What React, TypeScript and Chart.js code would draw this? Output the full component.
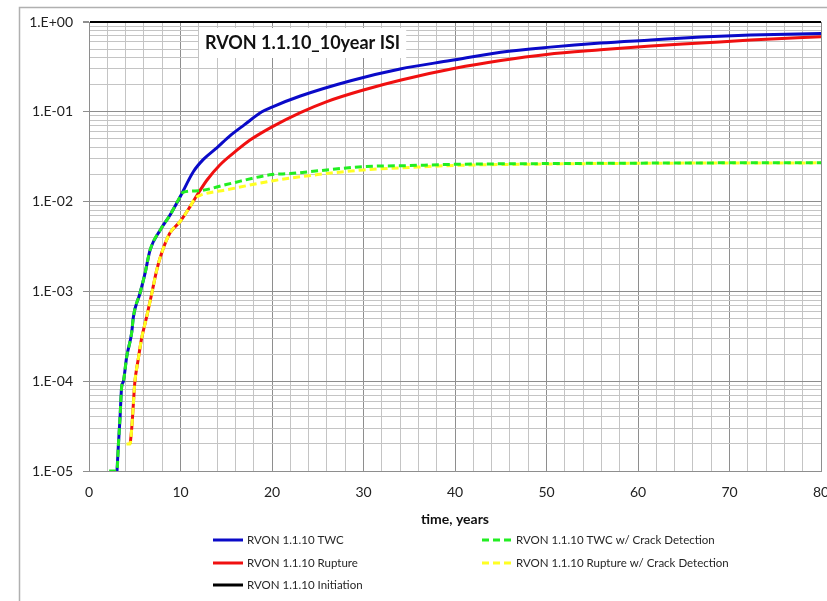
import { useEffect, useRef } from 'react';
import { Chart, registerables } from 'chart.js';

Chart.register(...registerables);

// ---------------- data ----------------
const chartTitle = 'RVON 1.1.10_10year ISI';
const xAxisTitle = 'time, years';

const twcYears = [3.06, 3.2, 3.39, 3.57, 3.75, 4.12, 4.67, 4.85, 5.58, 6.13, 6.68, 7.77, 8.86, 9.96, 11.4, 12.5, 14.0, 15.4, 17.0, 18.9, 20.0, 23.1, 28.6, 34.0, 39.5, 45.0, 50.4, 55.9, 61.4, 66.9, 72.3, 80.0];
const twcValues = [1e-5, 1.86e-5, 3.9e-5, 8.7e-5, 9.9e-5, 1.87e-4, 3.5e-4, 5.2e-4, 9.6e-4, 1.6e-3, 2.9e-3, 4.8e-3, 7.1e-3, 1.13e-2, 2.15e-2, 2.95e-2, 4.0e-2, 5.4e-2, 7.2e-2, 0.1, 0.113, 0.15, 0.222, 0.3, 0.372, 0.46, 0.525, 0.583, 0.63, 0.68, 0.716, 0.745];

const ruptureYears = [4.5, 4.66, 4.83, 5.0, 5.37, 5.75, 6.3, 6.86, 7.4, 7.95, 8.86, 9.96, 11.05, 11.6, 12.9, 14.3, 16.2, 17.6, 20.0, 23.1, 26.0, 30.0, 34.0, 40.0, 45.0, 50.0, 55.9, 61.4, 66.9, 72.3, 80.0];
const ruptureValues = [2e-5, 2.9e-5, 5.2e-5, 9.5e-5, 1.73e-4, 3.0e-4, 5.2e-4, 9.5e-4, 1.73e-3, 2.7e-3, 4.5e-3, 6.0e-3, 8.8e-3, 1.09e-2, 1.74e-2, 2.56e-2, 3.76e-2, 4.85e-2, 6.8e-2, 0.098, 0.13, 0.175, 0.225, 0.305, 0.372, 0.435, 0.49, 0.54, 0.583, 0.63, 0.685];

const twcCdYears = [2.2, 3.06, 3.2, 3.39, 3.57, 3.75, 4.12, 4.67, 4.85, 5.58, 6.13, 6.68, 7.77, 8.86, 9.96, 10.3, 12.0, 15.0, 20.0, 22.0, 25.0, 30.0, 35.0, 40.0, 50.0, 60.0, 70.0, 80.0];
const twcCdValues = [1e-5, 1e-5, 1.86e-5, 3.9e-5, 8.7e-5, 9.9e-5, 1.87e-4, 3.5e-4, 5.2e-4, 9.6e-4, 1.6e-3, 2.9e-3, 4.8e-3, 7.1e-3, 1.13e-2, 1.27e-2, 1.32e-2, 1.55e-2, 2.0e-2, 2.05e-2, 2.2e-2, 2.45e-2, 2.52e-2, 2.6e-2, 2.65e-2, 2.68e-2, 2.7e-2, 2.7e-2];

const ruptureCdYears = [4.1, 4.5, 4.66, 4.83, 5.0, 5.37, 5.75, 6.3, 6.86, 7.4, 7.95, 8.86, 9.96, 11.05, 11.6, 12.2, 15.0, 20.0, 25.0, 30.0, 35.0, 40.0, 50.0, 60.0, 70.0, 80.0];
const ruptureCdValues = [2e-5, 2e-5, 2.9e-5, 5.2e-5, 9.5e-5, 1.73e-4, 3.0e-4, 5.2e-4, 9.5e-4, 1.73e-3, 2.7e-3, 4.5e-3, 6.0e-3, 8.8e-3, 1.09e-2, 1.18e-2, 1.35e-2, 1.7e-2, 2.0e-2, 2.25e-2, 2.4e-2, 2.53e-2, 2.62e-2, 2.67e-2, 2.69e-2, 2.7e-2];

const initiationYears: number[] = [];
const initiationValues: number[] = [];

const yMajorTicks = [1e-5, 1e-4, 1e-3, 1e-2, 1e-1, 1];
const yTickLabels = ['1.E-05', '1.E-04', '1.E-03', '1.E-02', '1.E-01', '1.E+00'];
const xMin = 0;
const xMax = 80;
const xLabelStep = 10;
const xGridStep = 2;

const seriesNames = [
  'RVON 1.1.10 TWC',
  'RVON 1.1.10 Rupture',
  'RVON 1.1.10 Initiation',
  'RVON 1.1.10 TWC w/ Crack Detection',
  'RVON 1.1.10 Rupture w/ Crack Detection',
];

// ---------------- styles ----------------
const FONT = 'Lato, "Open Sans", "Noto Sans", sans-serif';
const BLUE = '#0a0ac8';
const RED = '#f01010';
const BLACK = '#000000';
const GREEN = '#22ee22';
const YELLOW = '#ffff22';
const GRID_MAJOR = '#8e8e8e';
const GRID_MINOR = '#c4c4c4';

const pts = (xs: number[], ys: number[]) => xs.map((x, i) => ({ x, y: ys[i] }));

const isMajorY = (v: number) => yMajorTicks.some((m) => Math.abs(m - v) < m * 1e-6);

const legendLayout = [
  { name: seriesNames[0], color: BLUE, dash: [] as number[], x: 213, y: 540 },
  { name: seriesNames[1], color: RED, dash: [] as number[], x: 213, y: 563 },
  { name: seriesNames[2], color: BLACK, dash: [] as number[], x: 213, y: 585 },
  { name: seriesNames[3], color: GREEN, dash: [7, 4], x: 482, y: 540 },
  { name: seriesNames[4], color: YELLOW, dash: [7, 4], x: 482, y: 563 },
];

const decorPlugin = {
  id: 'decor',
  beforeDraw(chart: any) {
    const { ctx } = chart;
    ctx.save();
    ctx.fillStyle = '#ffffff';
    ctx.fillRect(0, 0, chart.width, chart.height);
    ctx.strokeStyle = '#b0b0b0';
    ctx.lineWidth = 1.5;
    ctx.strokeRect(19.5, 7.5, 1200, 1200);
    ctx.restore();
  },
  afterDraw(chart: any) {
    const { ctx } = chart;
    ctx.save();
    // title box
    ctx.font = `bold 18px ${FONT}`;
    const tw = ctx.measureText(chartTitle).width;
    const tx = 205;
    const ty = 43;
    ctx.fillStyle = '#ffffff';
    ctx.fillRect(tx - 6, ty - 15, tw + 12, 30);
    ctx.fillStyle = '#111111';
    ctx.textBaseline = 'middle';
    ctx.textAlign = 'left';
    ctx.fillText(chartTitle, tx, ty);
    // legend
    ctx.font = `11.5px ${FONT}`;
    legendLayout.forEach((item) => {
      ctx.beginPath();
      ctx.strokeStyle = item.color;
      ctx.lineWidth = 3;
      ctx.setLineDash(item.dash);
      ctx.moveTo(item.x, item.y);
      ctx.lineTo(item.x + 30, item.y);
      ctx.stroke();
      ctx.setLineDash([]);
      ctx.fillStyle = '#262626';
      ctx.fillText(item.name, item.x + 34, item.y + 0.5);
    });
    ctx.restore();
  },
};

export default function App() {
  const ref = useRef<HTMLCanvasElement | null>(null);

  useEffect(() => {
    if (!ref.current) return;
    const chart = new Chart(ref.current, {
      type: 'line',
      data: {
        datasets: [
          {
            label: seriesNames[3],
            data: pts(twcCdYears, twcCdValues),
            borderColor: GREEN,
            borderWidth: 3,
            borderDash: [7, 4],
            pointRadius: 0,
            order: 0,
          },
          {
            label: seriesNames[4],
            data: pts(ruptureCdYears, ruptureCdValues),
            borderColor: YELLOW,
            borderWidth: 3,
            borderDash: [7, 4],
            pointRadius: 0,
            order: 0,
          },
          {
            label: seriesNames[0],
            data: pts(twcYears, twcValues),
            borderColor: BLUE,
            borderWidth: 3,
            pointRadius: 0,
            order: 1,
          },
          {
            label: seriesNames[1],
            data: pts(ruptureYears, ruptureValues),
            borderColor: RED,
            borderWidth: 3,
            pointRadius: 0,
            order: 1,
          },
          {
            label: seriesNames[2],
            data: pts(initiationYears, initiationValues),
            borderColor: BLACK,
            borderWidth: 3,
            pointRadius: 0,
            order: 2,
          },
        ],
      },
      options: {
        animation: false,
        responsive: false,
        maintainAspectRatio: false,
        layout: { padding: { left: 0, top: 22, right: 6, bottom: 73 } },
        plugins: {
          legend: { display: false },
          tooltip: { enabled: false },
          title: { display: false },
        },
        elements: { line: { cubicInterpolationMode: 'monotone' } },
        scales: {
          x: {
            type: 'linear',
            min: xMin,
            max: xMax,
            afterFit(scale: any) {
              scale.height = 57;
              scale.paddingLeft = 0;
              scale.paddingRight = 0;
            },
            ticks: {
              stepSize: xGridStep,
              autoSkip: false,
              maxRotation: 0,
              padding: 13,
              color: '#222222',
              font: { family: FONT, size: 14 },
              callback: (v: any) => (Number(v) % xLabelStep === 0 ? String(v) : ''),
            },
            grid: {
              drawTicks: false,
              color: (c: any) => (c.tick && c.tick.value % xLabelStep === 0 ? GRID_MAJOR : GRID_MINOR),
              lineWidth: 1,
            },
            border: { color: GRID_MAJOR, width: 1 },
            title: {
              display: true,
              text: xAxisTitle,
              color: '#111111',
              font: { family: FONT, size: 14, weight: 'bold' },
              padding: 0,
            },
          },
          y: {
            type: 'logarithmic',
            min: yMajorTicks[0],
            max: yMajorTicks[yMajorTicks.length - 1],
            afterFit(scale: any) {
              scale.width = 89;
              scale.paddingTop = 0;
              scale.paddingBottom = 0;
            },
            afterBuildTicks(scale: any) {
              const t: any[] = [];
              for (let i = 0; i < yMajorTicks.length - 1; i++) {
                const d = yMajorTicks[i];
                t.push({ value: d, major: true });
                for (let m = 2; m <= 9; m++) t.push({ value: m * d, major: false });
              }
              t.push({ value: yMajorTicks[yMajorTicks.length - 1], major: true });
              scale.ticks = t;
            },
            ticks: {
              autoSkip: false,
              padding: 10,
              color: '#222222',
              font: { family: FONT, size: 14 },
              callback: (v: any) => {
                const idx = yMajorTicks.findIndex((m) => Math.abs(m - Number(v)) < m * 1e-6);
                return idx >= 0 ? yTickLabels[idx] : '';
              },
            },
            grid: {
              tickLength: 6,
              color: (c: any) => {
                if (!c.tick) return GRID_MINOR;
                if (Math.abs(c.tick.value - 1) < 1e-9) return '#000000';
                return isMajorY(c.tick.value) ? GRID_MAJOR : GRID_MINOR;
              },
              tickColor: (c: any) => (c.tick && isMajorY(c.tick.value) ? GRID_MAJOR : 'rgba(0,0,0,0)'),
              lineWidth: (c: any) => (c.tick && Math.abs(c.tick.value - 1) < 1e-9 ? 2 : 1),
            },
            border: { color: GRID_MAJOR, width: 1 },
          },
        },
      } as any,
      plugins: [decorPlugin],
    });
    return () => chart.destroy();
  }, []);

  return (
    <div style={{ position: 'fixed', left: 0, top: 0, width: 827, height: 601 }}>
      <canvas ref={ref} width={827} height={601} style={{ width: 827, height: 601, display: 'block' }} />
    </div>
  );
}
